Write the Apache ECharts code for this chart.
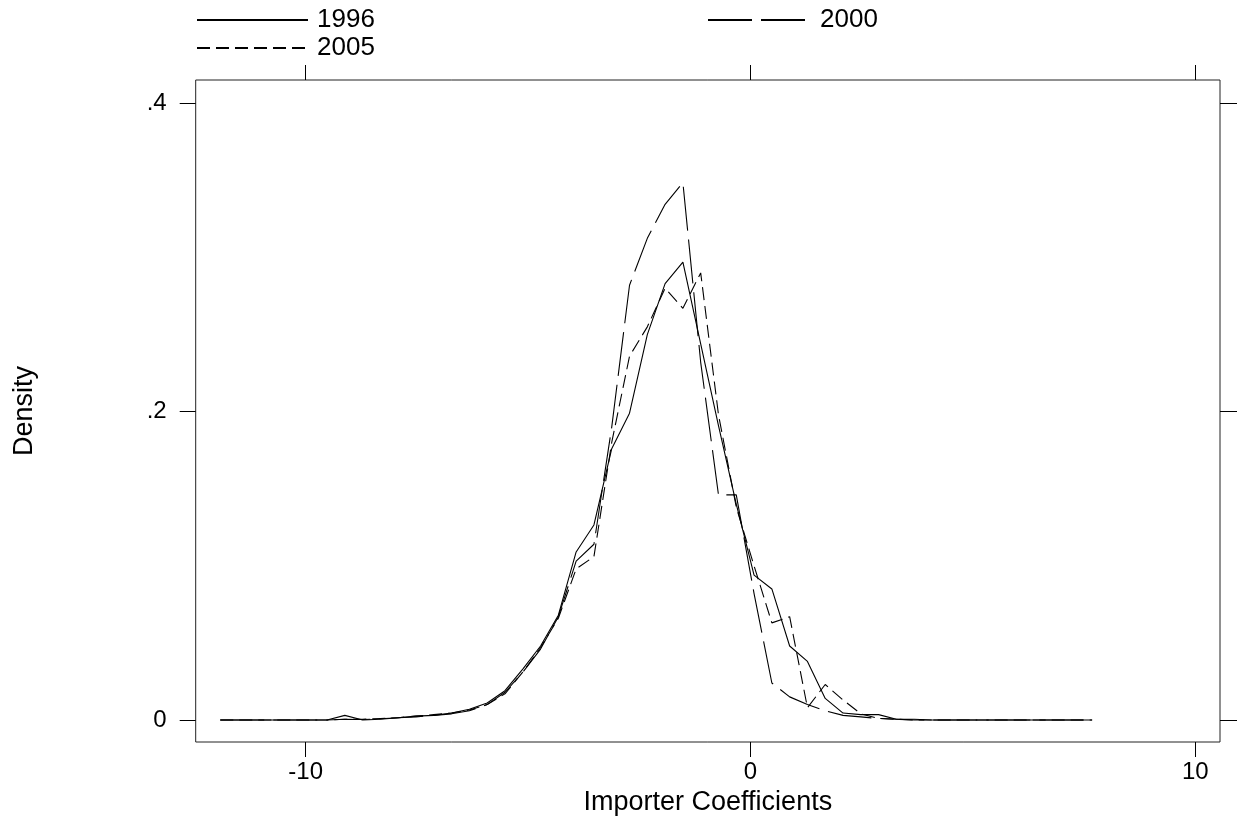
<!DOCTYPE html>
<html>
<head>
<meta charset="utf-8">
<script src="https://cdn.jsdelivr.net/npm/echarts@6/dist/echarts.min.js"></script>
<style>
html,body{margin:0;padding:0;background:#fff;}
#chart{width:1238px;height:822px;}
</style>
</head>
<body>
<div id="chart"></div>
<script>
// ---- data ----
var xValues = [-11.92,-11.52,-11.12,-10.72,-10.32,-9.92,-9.52,-9.12,-8.72,-8.32,
  -7.92,-7.52,-7.12,-6.72,-6.32,-5.92,-5.52,-5.12,-4.72,-4.32,
  -3.92,-3.52,-3.12,-2.72,-2.32,-1.92,-1.52,-1.12,-0.72,-0.32,
  0.08,0.48,0.88,1.28,1.68,2.08,2.48,2.88,3.28,3.68,
  4.08,4.48,4.88,5.28,5.68,6.08,6.48,6.88,7.28,7.68];

var y1996 = [0,0,0,0,0,0,0,0.003,0,0.0005,
  0.0015,0.0025,0.003,0.0045,0.007,0.011,0.019,0.033,0.048,0.068,
  0.109,0.1265,0.176,0.199,0.25,0.283,0.297,0.244,0.191,0.140,
  0.094,0.085,0.048,0.038,0.014,0.0045,0.0035,0.0035,0.0005,0.0005,
  0,0,0,0,0,0,0,0,0,0];

var y2000 = [0,0,0,0,0,0,0,0.0005,0.0003,0.0008,
  0.0015,0.002,0.003,0.004,0.006,0.010,0.018,0.031,0.046,0.067,
  0.103,0.114,0.19,0.282,0.3124,0.3345,0.3485,0.232,0.146,0.146,
  0.082,0.024,0.015,0.010,0.006,0.003,0.002,0.001,0.0005,0,
  0,0,0,0,0,0,0,0,0,0];

var y2005 = [0,0,0,0,0,0,0,0.0005,0.0005,0.001,
  0.0015,0.0025,0.0035,0.0045,0.0065,0.010,0.017,0.031,0.047,0.066,
  0.098,0.106,0.18,0.236,0.255,0.280,0.267,0.290,0.198,0.138,
  0.10,0.063,0.067,0.008,0.023,0.013,0.004,0.001,0.0005,0,
  0,0,0,0,0,0,0,0,0,0];

var seriesNames = ['1996','2000','2005'];
var xTickValues = [-10, 0, 10];
var xTickLabels = ['-10', '0', '10'];
var yTickValues = [0, 0.2, 0.4];
var yTickLabels = ['0', '.2', '.4'];

// ---- chart ----
var FONT = 'Liberation Sans, Arial, sans-serif';
function pairs(ys){ return xValues.map(function(x,i){ return [x, ys[i]]; }); }

var chart = echarts.init(document.getElementById('chart'), null, {renderer:'canvas'});
var tickStyle = {color:'#000', width:1};
var legendText = {fontSize:26, lineHeight:27, color:'#000', fontFamily:FONT, padding:[0,0,0,4]};
var hiddenSymbol = {color:'rgba(0,0,0,0)', borderColor:'rgba(0,0,0,0)', borderWidth:0, opacity:0};

chart.setOption({
  animation:false,
  backgroundColor:'#fff',
  grid:{left:195.7, right:18, top:80, bottom:80, show:true, borderColor:'#222', borderWidth:1, containLabel:false},
  legend:[
    {data:['1996','2005'], left:196, top:6.5, orient:'vertical', padding:0,
     itemWidth:111, itemHeight:14, itemGap:1, textStyle:legendText, itemStyle:hiddenSymbol, selectedMode:false},
    {data:['2000'], left:707, top:6.5, orient:'vertical', padding:0,
     itemWidth:103, itemHeight:14, itemGap:1, textStyle:legendText, itemStyle:hiddenSymbol, selectedMode:false}
  ],
  xAxis:[
    {type:'value', position:'bottom', min:-12.473, max:10.555,
     axisLine:{show:false, onZero:false}, splitLine:{show:false},
     axisTick:{show:true, length:15, lineStyle:tickStyle, customValues:xTickValues},
     axisLabel:{show:true, customValues:xTickValues, margin:18, fontSize:24, color:'#000', fontFamily:FONT,
       formatter:function(v){ var i = xTickValues.indexOf(v); return i>=0 ? xTickLabels[i] : ''; }},
     name:'Importer Coefficients', nameLocation:'middle', nameGap:43,
     nameTextStyle:{fontSize:27, color:'#000', fontFamily:FONT}},
    {type:'value', position:'top', min:-12.473, max:10.555,
     axisLine:{show:false, onZero:false}, splitLine:{show:false},
     axisTick:{show:true, length:15, lineStyle:tickStyle, customValues:xTickValues},
     axisLabel:{show:false}}
  ],
  yAxis:[
    {type:'value', position:'left', min:-0.01427, max:0.41511,
     axisLine:{show:false, onZero:false}, splitLine:{show:false},
     axisTick:{show:true, length:16, lineStyle:tickStyle, customValues:yTickValues},
     axisLabel:{show:true, customValues:yTickValues, margin:29, fontSize:24, color:'#000', fontFamily:FONT,
       formatter:function(v){ var i = yTickValues.indexOf(v); return i>=0 ? yTickLabels[i] : ''; }},
     name:'Density', nameLocation:'middle', nameGap:158, nameRotate:90,
     nameTextStyle:{fontSize:27, color:'#000', fontFamily:FONT}},
    {type:'value', position:'right', min:-0.01427, max:0.41511,
     axisLine:{show:false, onZero:false}, splitLine:{show:false},
     axisTick:{show:true, length:17, lineStyle:tickStyle, customValues:yTickValues},
     axisLabel:{show:false}}
  ],
  series:[
    {name:seriesNames[0], type:'line', data:pairs(y1996), symbol:'none', showSymbol:false,
     lineStyle:{color:'#000', width:1.1, type:'solid'}, itemStyle:{color:'#000'}},
    {name:seriesNames[1], type:'line', data:pairs(y2000), symbol:'none', showSymbol:false,
     lineStyle:{color:'#000', width:1.1, type:[44,9]}, itemStyle:{color:'#000'}},
    {name:seriesNames[2], type:'line', data:pairs(y2005), symbol:'none', showSymbol:false,
     lineStyle:{color:'#000', width:1.1, type:[13,6]}, itemStyle:{color:'#000'}}
  ]
});
</script>
</body>
</html>
